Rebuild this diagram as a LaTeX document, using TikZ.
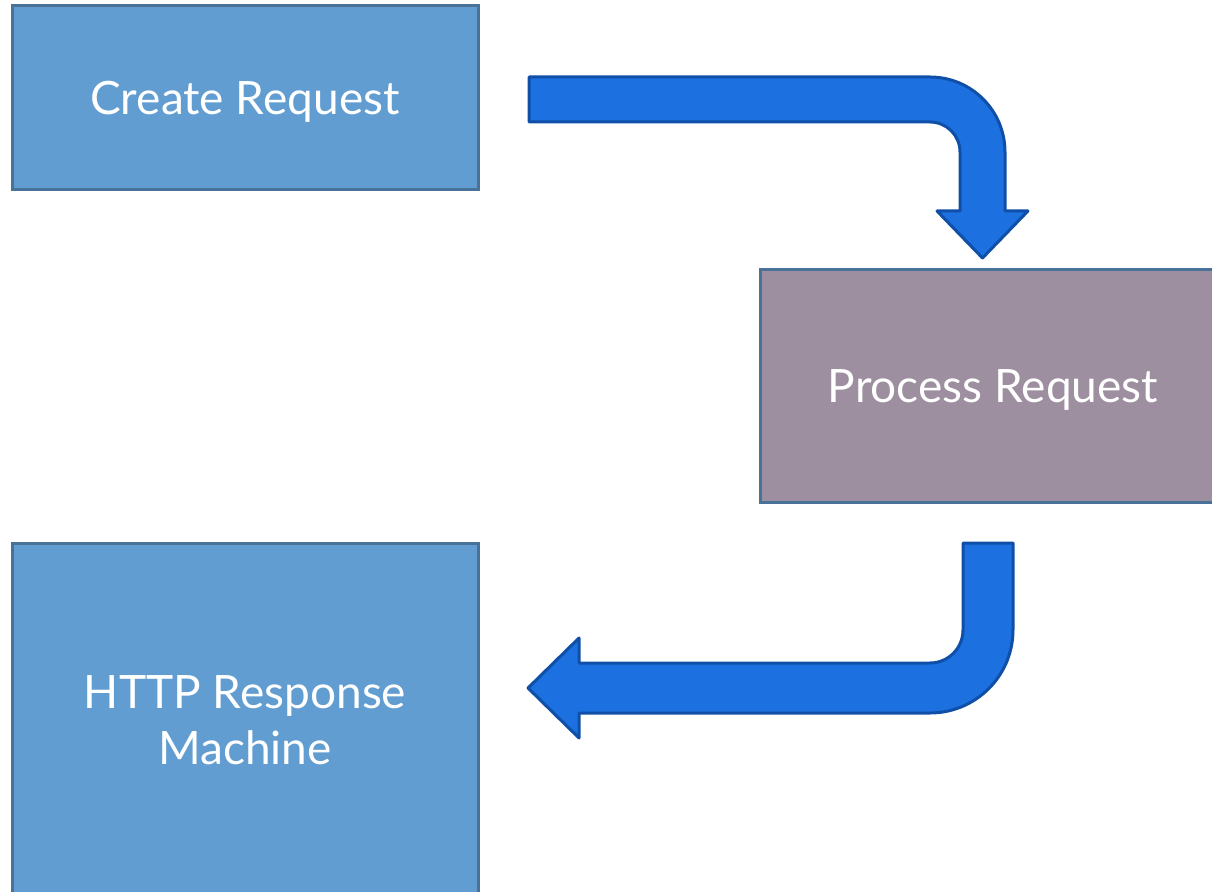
\documentclass[tikz,border=0pt]{standalone}
\usepackage{fontspec}
\setmainfont{Lato}
\definecolor{boxblue}{HTML}{629DD1}
\definecolor{boxline}{HTML}{4A7298}
\definecolor{boxmauve}{HTML}{9D8FA0}
\definecolor{arrowfill}{HTML}{1C70E0}
\definecolor{arrowline}{HTML}{0F4FA8}
\begin{document}
\begin{tikzpicture}[x=0.5pt,y=0.5pt,
    stagebox/.style={draw=boxline,line width=1.5pt,fill=boxblue,text=white,
      minimum width=233pt,align=center,font=\fontsize{23}{28}\selectfont},
    bentarrow/.style={draw=arrowline,line width=1.5pt,fill=arrowfill,line join=round}]
			\useasboundingbox (0,0) rectangle (1212,891);
			\clip (0,0) rectangle (1212,891);

			\node[stagebox,minimum height=92pt,text depth=0pt] (create) at (245,793) {Create Request};
			\node[stagebox,minimum height=116pt,text depth=0pt,fill=boxmauve] (process) at (993,505) {Process Request};
			\node[stagebox,minimum height=177pt] (response) at (245,171) {HTTP Response\\Machine};

			\coordinate (A) at (529,769);
			\coordinate (B) at (963,348);

			\draw[bentarrow] (A) -- +(0,45) -- (930,814) arc[start angle=90,end angle=0,radius=75]
			    -- (1005,680) -- (1028,680) -- (982.5,633) -- (937,680) -- (960,680) -- (960,739)
			    arc[start angle=0,end angle=90,radius=30] -- cycle;

			\draw[bentarrow] (B) -- (1013,348) -- (1013,261) arc[start angle=0,end angle=-90,radius=83]
			    -- (579,178) -- (579,153) -- (528,203) -- (579,253) -- (579,228) -- (930,228)
			    arc[start angle=-90,end angle=0,radius=33] -- cycle;
		    \end{tikzpicture}
\end{document}
